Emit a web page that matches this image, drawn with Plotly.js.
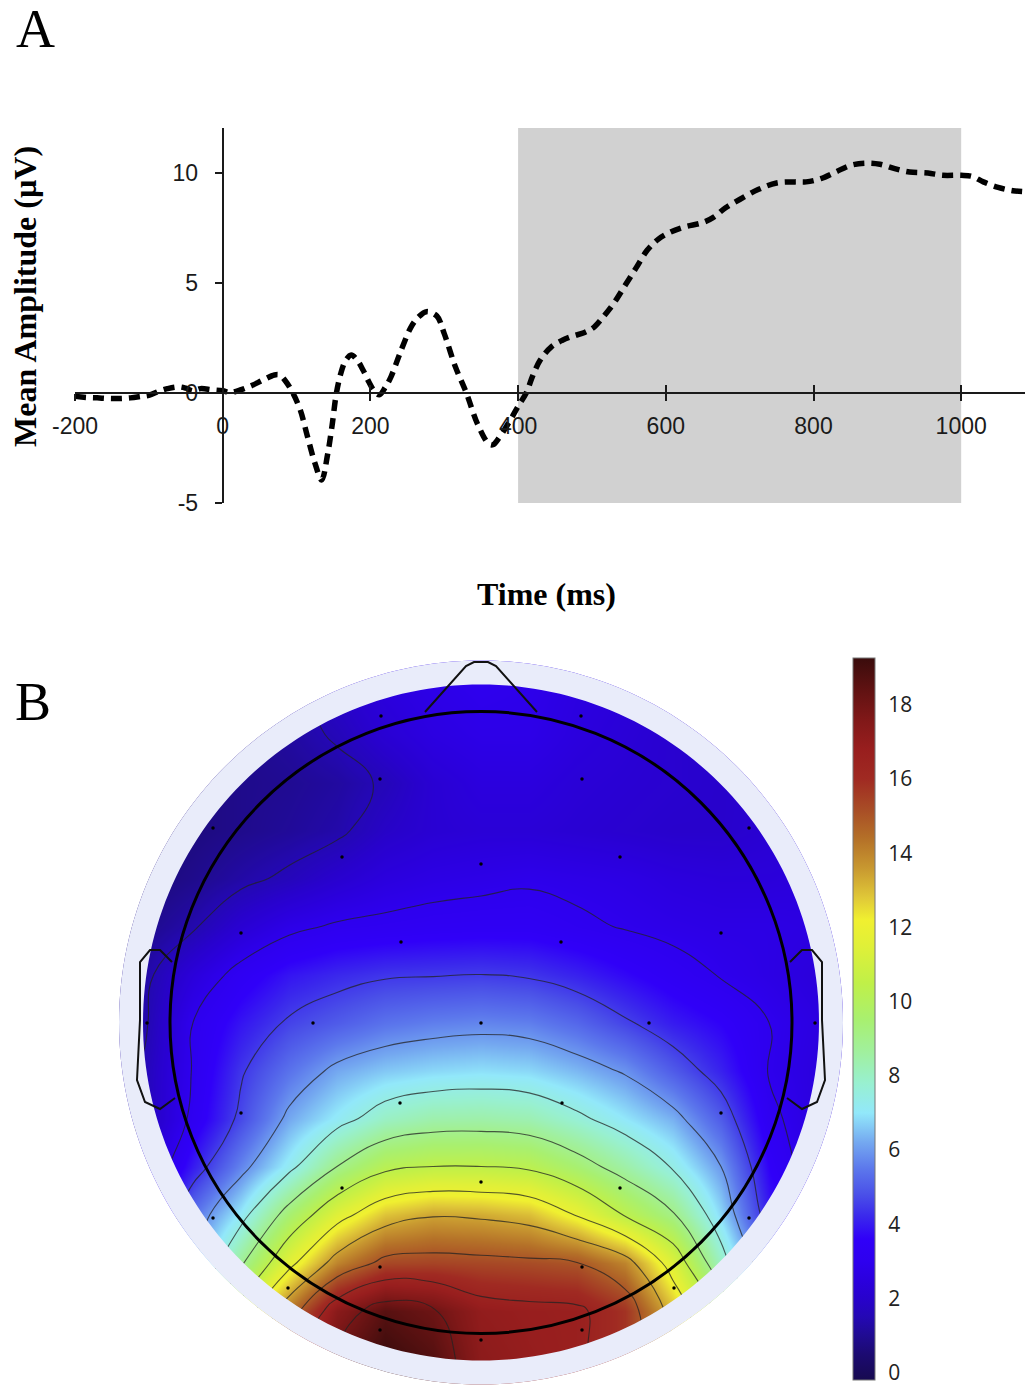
<!DOCTYPE html>
<html>
<head>
<meta charset="utf-8">
<script src="https://cdn.plot.ly/plotly-3.0.1.min.js"></script>
<style>html,body{margin:0;padding:0;background:#fff;}#chart{width:1025px;height:1386px;}</style>
</head>
<body>
<div id="chart"></div>
<script>
// ---------- Panel A: ERP waveform ----------
const times = [-200,-185,-170,-155,-140,-125,-110,-100,-85,-75,-60,-50,-40,-30,-15,0,10,25,40,55,70,77,85,95,105,115,125,134,142,148,154,160,166,174,182,190,198,205,212,220,228,240,255,265,276,290,300,315,330,345,360,366,375,390,400,411,420,430,445,460,475,490,503,515,530,545,560,575,590,605,625,650,665,680,700,725,750,775,790,810,830,850,870,890,910,930,955,975,1000,1015,1030,1050,1070,1086];
const amplitude = [-0.15,-0.2,-0.22,-0.25,-0.25,-0.22,-0.15,-0.1,0.1,0.2,0.28,0.22,0.1,0.2,0.15,0.1,0.02,0.15,0.35,0.6,0.82,0.82,0.55,0.0,-0.77,-2.0,-3.2,-3.95,-2.8,-1.5,0.0,0.9,1.45,1.73,1.5,1.05,0.5,0.1,-0.08,0.25,0.75,1.8,3.0,3.45,3.7,3.5,2.7,1.2,0.0,-1.4,-2.3,-2.35,-2.0,-1.2,-0.6,0.0,0.8,1.5,2.1,2.4,2.6,2.75,3.0,3.45,4.1,4.9,5.7,6.5,7.0,7.3,7.55,7.75,8.0,8.4,8.8,9.25,9.55,9.6,9.6,9.75,10.05,10.35,10.45,10.4,10.2,10.05,10.0,9.9,9.9,9.85,9.6,9.35,9.2,9.15];
const windowStart = 400, windowEnd = 1000;
const xTicks = [-200,0,200,400,600,800,1000];
const xTickText = ['-200','0','200','400','600','800','1000'];
const yTicks = [-5,0,5,10];
const yTickText = ['-5','0','5','10'];

// ---------- Panel B: scalp topography (values read on a 48 px grid, null = outside head) ----------
const gridX = [-384,-336,-288,-240,-192,-144,-96,-48,0,48,96,144,192,240,288,336,384];
const gridY = [384,336,288,240,192,144,96,48,0,-48,-96,-144,-192,-240,-288,-336,-384];
const N = null;
const topoValues = [
 [N,N,N,N,N,2.6,2.8,2.9,3.0,2.9,2.7,2.5,N,N,N,N,N],
 [N,N,N,1.0,1.3,2.0,2.5,2.8,3.0,2.9,2.6,2.4,2.2,2.1,N,N,N],
 [N,N,0.6,0.9,1.2,1.6,2.2,2.6,2.8,2.8,2.5,2.3,2.1,2.0,2.0,N,N],
 [N,0.5,0.7,0.9,1.0,1.2,1.6,2.2,2.5,2.5,2.3,2.2,2.1,2.0,2.1,2.2,N],
 [N,0.5,0.7,0.9,1.1,1.35,1.9,2.2,2.3,2.3,2.2,2.1,2.0,2.0,2.2,2.3,N],
 [0.4,0.6,0.9,1.3,1.65,2.1,2.5,2.7,2.8,2.9,2.8,2.7,2.5,2.4,2.4,2.5,2.5],
 [0.5,0.9,1.4,2.2,2.8,3.1,3.2,3.3,3.35,3.35,3.15,2.95,2.8,2.7,2.7,2.6,2.5],
 [0.7,1.3,2.4,3.3,3.9,4.2,4.4,4.45,4.5,4.4,4.1,3.7,3.3,2.95,2.7,2.4,2.2],
 [0.8,1.4,3.0,3.9,4.6,5.0,5.4,5.6,5.7,5.6,5.2,4.6,4.0,3.6,3.0,2.6,2.3],
 [0.9,1.6,3.05,4.4,5.4,6.2,6.6,6.8,6.9,6.8,6.4,5.9,5.0,4.1,2.95,2.5,2.2],
 [0.9,1.6,3.2,4.7,6.2,7.1,8.0,8.4,8.45,8.3,7.7,7.0,6.3,5.0,3.2,2.5,2.2],
 [1.0,2.0,4.0,5.7,7.2,9.0,10.2,10.5,10.5,10.3,9.5,8.5,7.4,6.0,3.6,2.5,2.2],
 [N,2.5,5.4,7.1,9.5,11.5,12.9,13.4,13.3,13.0,11.9,10.4,9.1,6.8,4.0,2.8,N],
 [N,3.0,6.0,8.8,11.6,14.0,15.3,15.4,15.3,15.2,15.0,14.0,11.4,8.0,5.0,3.0,N],
 [N,N,7.5,11.0,14.3,17.3,18.6,18.1,17.0,16.8,16.7,15.8,13.0,10.0,6.5,N,N],
 [N,N,N,12.5,16.0,18.3,19.3,18.7,17.2,16.9,16.7,15.8,13.5,10.5,N,N,N],
 [N,N,N,N,N,18.5,19.1,18.6,17.3,17.0,16.8,16.0,N,N,N,N,N]
];
const elecX = [-100,100,-101,101,-268,268,-139,0,139,-240,-80,80,240,-334,-168,0,168,334,-240,-81,81,240,-268,-139,0,139,268,-193,-101,101,193,-101,0,101];
const elecY = [306.5,306.5,243.5,243.5,194.5,194.5,165.5,158.5,165.5,89.5,80.5,80.5,89.5,-0.5,-0.5,-0.5,-0.5,-0.5,-90.5,-80.5,-80.5,-90.5,-195.5,-165.5,-159.5,-165.5,-195.5,-265.5,-244.5,-244.5,-265.5,-307.5,-317.5,-307.5];
const cbTicks = [0,2,4,6,8,10,12,14,16,18];
const colorMin = -0.2, colorMax = 19.26;
const stopValues = [-0.2,0.5,1.0,1.5,2.0,2.5,3.0,3.6,4.2,4.8,5.5,6.2,7.0,7.8,8.6,9.5,10.5,11.5,12.2,12.8,13.6,14.4,15.2,16.0,16.8,17.6,18.4,19.26];
const stopColors = ['#170a50','#1c0a72','#200b92','#2408b4','#2802cc','#2b00de','#2e00ee','#3000f8','#3a28ec','#4a50e8','#5c78ec','#74a8f0','#92e8fa','#98f0d0','#a0f0a0','#a8f070','#c0f048','#e0f038','#f0f030','#e0c838','#c89830','#b47028','#a84c26','#a02a22','#981e1e','#801818','#601212','#3a0c0c'];
const colorscale = stopValues.map((v,i)=>[(v-colorMin)/(colorMax-colorMin), stopColors[i]]);

// Plotly wants ascending y
const yAsc = gridY.slice().reverse();
const zAsc = topoValues.slice().reverse();

// geometry helpers for head drawing (decoration)
const headR = 311, mapR = 338, ringR = 362, outerR = 580;
function circ(r){let s='';const n=240;for(let i=0;i<=n;i++){const a=2*Math.PI*i/n;s+=(i?'L':'M')+(r*Math.cos(a)).toFixed(2)+','+(r*Math.sin(a)).toFixed(2);}return s+'Z';}
function poly(pts){return pts.map((p,i)=>(i?'L':'M')+p[0]+','+p[1]).join('');}
const nosePts = [[-56,310.5],[-15,356.5],[-7,360.5],[7,360.5],[15,356.5],[56,310.5]];
const earL = [[-309,60.5],[-321,72.5],[-331,72.5],[-341,60.5],[-341,2.5],[-344,-57.5],[-336,-79.5],[-321,-86.5],[-306,-75.5]];
const earR = earL.map(p=>[-p[0],p[1]]);

// panel A axis geometry
const yDom = [(1386-503)/1386, (1386-128)/1386];
const yRange = [-5, 12.05];
const xDom = [75/1025, 1];
const xRange = [-200, 1086.4];
const xAxisPos = yDom[0] + (0-yRange[0])/(yRange[1]-yRange[0])*(yDom[1]-yDom[0]);
const yAxisPos = xDom[0] + (0-xRange[0])/(xRange[1]-xRange[0])*(xDom[1]-xDom[0]);

const tickFont = {family:'Liberation Sans, Arial, sans-serif', size:23, color:'#1a1a1a'};

const traces = [
 {x:times, y:amplitude, xaxis:'x', yaxis:'y', type:'scatter', mode:'lines',
  line:{color:'#000', width:5.5, dash:'11px,7px', shape:'spline', smoothing:1}, hoverinfo:'skip'},
 {x:[null], y:[null], xaxis:'x3', yaxis:'y', type:'scatter', mode:'lines', hoverinfo:'skip'},
 {x:gridX, y:yAsc, z:zAsc, type:'heatmap', xaxis:'x2', yaxis:'y2', zsmooth:'best', connectgaps:true,
  colorscale:colorscale, zmin:colorMin, zmax:colorMax, hoverinfo:'skip',
  colorbar:{x:853/1025, xanchor:'left', xpad:0, ypad:0, y:1-1019/1386, yanchor:'middle',
   len:722, lenmode:'pixels', thickness:22, thicknessmode:'pixels',
   outlinewidth:1, outlinecolor:'#777', ticks:'outside', ticklen:9, tickcolor:'rgba(0,0,0,0)',
   ticklabeloverflow:'allow',
   tickvals:cbTicks, tickfont:{family:'Open Sans, sans-serif', size:21, color:'#222'}}},
 {x:gridX, y:yAsc, z:zAsc, type:'contour', xaxis:'x2', yaxis:'y2', connectgaps:true, showscale:false,
  contours:{start:1.5, end:18, size:1.5, coloring:'none'},
  line:{color:'rgba(35,35,35,0.75)', width:1.1, smoothing:1.3}, hoverinfo:'skip'},
 {x:elecX, y:elecY, type:'scatter', mode:'markers', xaxis:'x2', yaxis:'y2',
  marker:{color:'#000', size:3.5}, hoverinfo:'skip'}
];

const layout = {
 width:1025, height:1386, margin:{l:0,r:0,t:0,b:0},
 paper_bgcolor:'#fff', plot_bgcolor:'rgba(0,0,0,0)', showlegend:false,
 xaxis:{domain:xDom, range:xRange, anchor:'free', position:xAxisPos, side:'bottom',
  showline:true, linecolor:'#1a1a1a', linewidth:2, ticks:'inside', ticklen:7, tickwidth:2, tickcolor:'#1a1a1a',
  tickvals:xTicks, ticktext:xTickText, showgrid:false, zeroline:false, tickfont:tickFont, ticklabelstandoff:12, fixedrange:true},
 xaxis3:{overlaying:'x', range:xRange, anchor:'free', position:xAxisPos, side:'bottom',
  showline:false, ticks:'outside', ticklen:7, tickwidth:2, tickcolor:'#1a1a1a',
  tickvals:xTicks, showticklabels:false, showgrid:false, zeroline:false},
 yaxis:{domain:yDom, range:yRange, anchor:'free', position:yAxisPos, side:'left',
  showline:true, linecolor:'#1a1a1a', linewidth:2, ticks:'outside', ticklen:7, tickwidth:2, tickcolor:'#1a1a1a',
  tickvals:yTicks, ticktext:yTickText, showgrid:false, zeroline:false, tickfont:tickFont, ticklabelstandoff:12},
 xaxis2:{domain:[97/1025, 865/1025], range:[-384,384], visible:false, anchor:'y2'},
 yaxis2:{domain:[0, (1386-640)/1386], range:[-363.5,382.5], visible:false, anchor:'x2'},
 shapes:[
  {type:'rect', xref:'x', yref:'y', x0:windowStart, x1:windowEnd, y0:yRange[0], y1:yRange[1], fillcolor:'#d1d1d1', line:{width:0}, layer:'below'},
  {type:'path', xref:'x2', yref:'y2', path:circ(outerR)+circ(ringR), fillrule:'evenodd', fillcolor:'#ffffff', line:{width:0}, layer:'above'},
  {type:'path', xref:'x2', yref:'y2', path:circ(ringR)+circ(mapR), fillrule:'evenodd', fillcolor:'#e9ecfa', line:{width:0}, layer:'above'},
  {type:'circle', xref:'x2', yref:'y2', x0:-headR, x1:headR, y0:-headR, y1:headR, line:{color:'#000', width:3}, layer:'above'},
  {type:'path', xref:'x2', yref:'y2', path:poly(nosePts), line:{color:'#111', width:2}, layer:'above'},
  {type:'path', xref:'x2', yref:'y2', path:poly(earL), line:{color:'#111', width:2}, layer:'above'},
  {type:'path', xref:'x2', yref:'y2', path:poly(earR), line:{color:'#111', width:2}, layer:'above'}
 ],
 annotations:[
  {text:'A', xref:'paper', yref:'paper', x:35/1025, y:1-29/1386, xanchor:'center', yanchor:'middle', showarrow:false,
   font:{family:'Liberation Serif, Times New Roman, serif', size:54, color:'#000'}},
  {text:'B', xref:'paper', yref:'paper', x:33/1025, y:1-702/1386, xanchor:'center', yanchor:'middle', showarrow:false,
   font:{family:'Liberation Serif, Times New Roman, serif', size:54, color:'#000'}},
  {text:'<b>Mean Amplitude (µV)</b>', xref:'paper', yref:'paper', x:25/1025, y:1-297/1386, textangle:-90, xanchor:'center', yanchor:'middle', showarrow:false,
   font:{family:'Liberation Serif, Times New Roman, serif', size:32, color:'#000'}},
  {text:'<b>Time (ms)</b>', xref:'paper', yref:'paper', x:546/1025, y:1-594/1386, xanchor:'center', yanchor:'middle', showarrow:false,
   font:{family:'Liberation Serif, Times New Roman, serif', size:32, color:'#000'}}
 ]
};

Plotly.newPlot('chart', traces, layout, {staticPlot:true, displayModeBar:false});
</script>
</body>
</html>
